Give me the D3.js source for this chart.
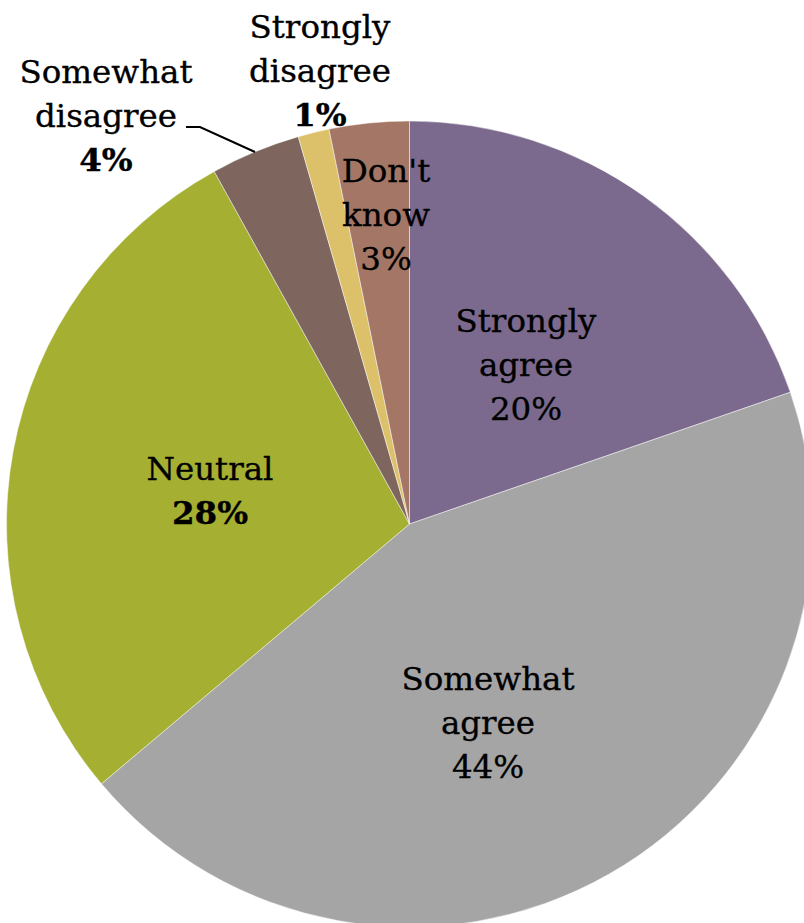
<!DOCTYPE html>
<html>
<head>
<meta charset="utf-8">
<script src="https://cdn.jsdelivr.net/npm/d3@7"></script>
<style>
  html, body { margin: 0; padding: 0; background: #ffffff; overflow: hidden; }
  svg { display: block; }
  text { font-family: "DejaVu Serif", "Liberation Serif", serif; fill: #000; stroke: #000; stroke-width: 0.35px; }
</style>
</head>
<body>
<svg id="chart" width="804" height="923"></svg>
<script>
// ---- data ----
const categories = ["Strongly agree", "Somewhat agree", "Neutral", "Somewhat disagree", "Strongly disagree", "Don't know"];
const values = [19.7, 44.15, 28.1, 3.6, 1.25, 3.2];
const percentLabels = ["20%", "44%", "28%", "4%", "1%", "3%"];
const nameLines = [["Strongly", "agree"], ["Somewhat", "agree"], ["Neutral"], ["Somewhat", "disagree"], ["Strongly", "disagree"], ["Don't", "know"]];
const boldPercent = [false, false, true, true, true, false];
const colors = ["#7b6a8d", "#a5a5a5", "#a5af32", "#7e665e", "#dcc16a", "#a37665"];

// ---- layout ----
const W = 804, H = 923;
const cx = 409.5, cy = 524, R = 403;
const fontSize = 32.5, lineH = 44;
// label anchor: x center and baseline of the first line
const labelPos = [
  { x: 526, y: 332 },
  { x: 488, y: 690 },
  { x: 210, y: 480 },
  { x: 106, y: 83 },
  { x: 320, y: 38 },
  { x: 386, y: 182 }
];
const leader = [[186, 127], [200, 127], [255, 152]];

const svg = d3.select("#chart");
const g = svg.append("g").attr("transform", `translate(${cx},${cy})`);

const pie = d3.pie().sort(null).value(d => d).startAngle(0).endAngle(2 * Math.PI);
const arc = d3.arc().innerRadius(0).outerRadius(R);
const color = d3.scaleOrdinal().domain(categories).range(colors);

const arcs = pie(values);
g.selectAll("path.slice")
  .data(arcs)
  .join("path")
  .attr("class", "slice")
  .attr("d", arc)
  .attr("fill", (d, i) => color(categories[i]))
  .attr("stroke", "rgba(255,255,255,0.45)")
  .attr("stroke-width", 1);

// leader line for "Somewhat disagree"
svg.append("path")
  .attr("d", d3.line()(leader))
  .attr("fill", "none")
  .attr("stroke", "#000")
  .attr("stroke-width", 2);

// labels
categories.forEach((c, i) => {
  const p = labelPos[i];
  const t = svg.append("text")
    .attr("text-anchor", "middle")
    .attr("font-size", fontSize);
  const lines = nameLines[i];
  lines.forEach((ln, j) => {
    t.append("tspan").attr("x", p.x).attr("y", p.y + j * lineH).text(ln);
  });
  t.append("tspan")
    .attr("x", p.x)
    .attr("y", p.y + lines.length * lineH)
    .attr("font-weight", boldPercent[i] ? "bold" : "normal")
    .text(percentLabels[i]);
});
</script>
</body>
</html>
